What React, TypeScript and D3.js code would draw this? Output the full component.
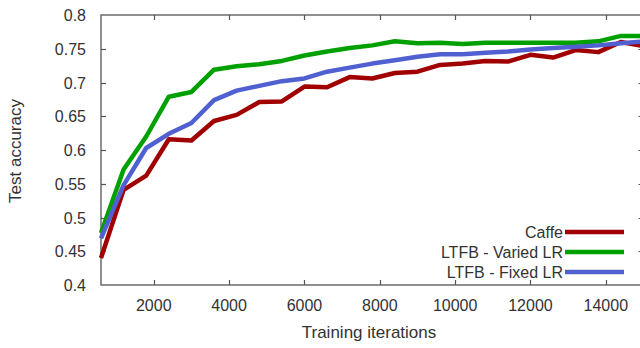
import { useEffect, useRef } from "react";
import * as d3 from "d3";

const iterations = [
  600, 1200, 1800, 2400, 3000, 3600, 4200, 4800, 5400, 6000, 6600, 7200, 7800,
  8400, 9000, 9600, 10200, 10800, 11400, 12000, 12600, 13200, 13800, 14400, 15000,
];

const caffe = [
  0.44, 0.541, 0.562, 0.616, 0.614, 0.643, 0.652, 0.671, 0.672, 0.694, 0.693,
  0.708, 0.706, 0.714, 0.716, 0.726, 0.728, 0.732, 0.731, 0.741, 0.737, 0.748,
  0.745, 0.76, 0.754,
];

const variedLR = [
  0.477, 0.571, 0.62, 0.679, 0.686, 0.719, 0.724, 0.727, 0.732, 0.74, 0.746,
  0.751, 0.755, 0.761, 0.758, 0.759, 0.757, 0.759, 0.759, 0.759, 0.759, 0.759,
  0.761, 0.769, 0.769,
];

const fixedLR = [
  0.469, 0.548, 0.603, 0.624, 0.64, 0.674, 0.688, 0.695, 0.702, 0.706, 0.716,
  0.722, 0.728, 0.733, 0.738, 0.742, 0.742, 0.744, 0.746, 0.749, 0.751, 0.753,
  0.755, 0.758, 0.761,
];

const seriesNames = ["Caffe", "LTFB - Varied LR", "LTFB - Fixed LR"];
const seriesColors = ["#a00000", "#00a000", "#5060d0"];

const xTicks = [2000, 4000, 6000, 8000, 10000, 12000, 14000];
const yTicks = [0.4, 0.45, 0.5, 0.55, 0.6, 0.65, 0.7, 0.75, 0.8];
const yTickLabels = ["0.4", "0.45", "0.5", "0.55", "0.6", "0.65", "0.7", "0.75", "0.8"];

const ChartSvg = () => {
  const svgRef = useRef<SVGSVGElement>(null);
  const width = 640;
  const height = 348;

  useEffect(() => {
    if (!svgRef.current) return;
    const svg = d3.select(svgRef.current);
    svg.selectAll("*").remove();

    const left = 101;
    const right = 643.5;
    const top = 15;
    const bottom = 285;

    const x = d3.scaleLinear().domain([600, 15000]).range([left, right]);
    const y = d3.scaleLinear().domain([0.4, 0.8]).range([bottom, top]);

    const font = "'Liberation Sans', Arial, sans-serif";
    const textColor = "#333";
    const axisColor = "#555";
    const tickLen = 5;

    // frame
    svg
      .append("rect")
      .attr("x", left)
      .attr("y", top)
      .attr("width", right - left)
      .attr("height", bottom - top)
      .attr("fill", "none")
      .attr("stroke", axisColor)
      .attr("stroke-width", 1.3);

    // x ticks (bottom and mirrored top)
    const gx = svg.append("g");
    xTicks.forEach((t) => {
      const px = Math.round(x(t)) + 0.5;
      gx.append("line")
        .attr("x1", px).attr("x2", px)
        .attr("y1", bottom).attr("y2", bottom - tickLen)
        .attr("stroke", axisColor).attr("stroke-width", 1.2);
      gx.append("line")
        .attr("x1", px).attr("x2", px)
        .attr("y1", top).attr("y2", top + tickLen)
        .attr("stroke", axisColor).attr("stroke-width", 1.2);
      gx.append("text")
        .attr("x", x(t))
        .attr("y", 311)
        .attr("text-anchor", "middle")
        .attr("font-family", font)
        .attr("font-size", 16)
        .attr("fill", textColor)
        .text(String(t));
    });

    // y ticks (left and mirrored right)
    const gy = svg.append("g");
    yTicks.forEach((t, i) => {
      const py = Math.round(y(t)) + 0.5;
      if (i > 0 && i < yTicks.length - 1) {
        gy.append("line")
          .attr("x1", left).attr("x2", left + tickLen)
          .attr("y1", py).attr("y2", py)
          .attr("stroke", axisColor).attr("stroke-width", 1.2);
        gy.append("line")
          .attr("x1", right).attr("x2", right - tickLen)
          .attr("y1", py).attr("y2", py)
          .attr("stroke", axisColor).attr("stroke-width", 1.2);
      }
      gy.append("text")
        .attr("x", 86)
        .attr("y", y(t) + 6)
        .attr("text-anchor", "end")
        .attr("font-family", font)
        .attr("font-size", 16)
        .attr("fill", textColor)
        .text(yTickLabels[i]);
    });

    // axis titles
    svg
      .append("text")
      .attr("x", 369)
      .attr("y", 338)
      .attr("text-anchor", "middle")
      .attr("font-family", font)
      .attr("font-size", 17)
      .attr("fill", textColor)
      .text("Training iterations");

    svg
      .append("text")
      .attr("transform", `translate(21,151) rotate(-90)`)
      .attr("text-anchor", "middle")
      .attr("font-family", font)
      .attr("font-size", 17)
      .attr("fill", textColor)
      .text("Test accuracy");

    // lines
    const allSeries = [caffe, variedLR, fixedLR];
    const line = d3
      .line<number>()
      .x((_, i) => x(iterations[i]))
      .y((d) => y(d));

    allSeries.forEach((values, k) => {
      svg
        .append("path")
        .datum(values)
        .attr("d", line)
        .attr("fill", "none")
        .attr("stroke", seriesColors[k])
        .attr("stroke-width", 4.5)
        .attr("stroke-linejoin", "round");
    });

    // legend
    const legend = svg.append("g");
    seriesNames.forEach((name, k) => {
      const ly = 232 + k * 20;
      legend
        .append("text")
        .attr("x", 563)
        .attr("y", ly + 6)
        .attr("text-anchor", "end")
        .attr("font-family", font)
        .attr("font-size", 16)
        .attr("fill", textColor)
        .text(name);
      legend
        .append("line")
        .attr("x1", 565)
        .attr("x2", 624)
        .attr("y1", ly)
        .attr("y2", ly)
        .attr("stroke", seriesColors[k])
        .attr("stroke-width", 4.5);
    });
  }, []);

  return (
    <svg
      ref={svgRef}
      width={width}
      height={height}
      style={{ position: "absolute", left: 0, top: 0, background: "#fff" }}
    />
  );
};

export default function App() {
  return <ChartSvg />;
}
